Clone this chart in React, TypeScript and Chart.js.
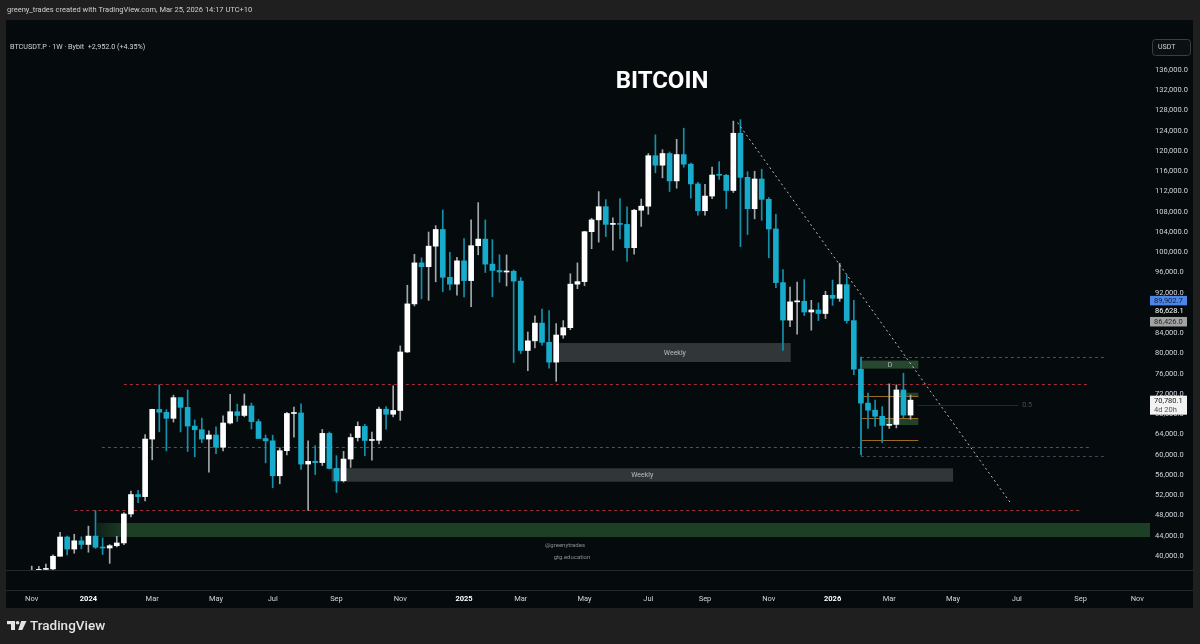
import React, { useEffect, useRef } from "react";
import { Chart, registerables } from "chart.js";

Chart.register(...registerables);

const FONT = "Roboto, 'Noto Sans', 'DejaVu Sans', sans-serif";

// Weekly candles. Week index 0 = week opening Mon 1 Jan 2024.
const FIRST_WEEK = -8;

const opens = [
  35000, 37050, 37350, 37450, 39950, 43750, 41370, 43000,
  42280, 43930, 41730, 41580, 42030, 42580, 48300, 52140, 51730, 63100, 68960, 68390,
  67200, 71280, 69360, 65660, 64940, 63100, 63900, 61480, 66270, 68500, 67760, 69630,
  66540, 63200, 62750, 55850, 60800, 68150, 68250, 58160, 58700, 58450, 64220, 57300,
  54870, 59150, 63400, 65600, 62820, 62850, 69000, 68000, 68750, 80300, 89800, 97900,
  97150, 101200, 104500, 95050, 93700,
  98300, 94400, 101300, 102600, 97650, 96400, 96100, 96250, 94300, 80600, 82500, 86000,
  82200, 78300, 83650, 85100, 93700, 94200, 104060, 106400, 109000, 105500, 105600, 105500,
  100900, 108300, 109100, 119070, 117200, 119500, 114100, 119300, 117400, 113500, 108200, 111100,
  115250, 115200, 112200, 123500, 114800, 108600, 114470, 110450, 104600, 94000, 86600, 90200,
  90300, 88200, 88600, 87900,
  91500, 90900, 93600, 86500, 76900, 70200, 68800, 67600, 65800, 66000, 72800, 67830,
];
const highs = [
  38000, 37950, 38400, 40250, 44700, 43950, 44300, 43800,
  45900, 48970, 43580, 42250, 43880, 48600, 52820, 52980, 64000, 69000, 73800, 68920,
  71770, 71300, 72800, 66870, 67230, 64730, 65500, 67700, 71950, 70000, 72000, 70200,
  67000, 63900, 63860, 61380, 68370, 69400, 70080, 62750, 61800, 65000, 64500, 59810,
  60670, 64130, 66500, 66000, 64470, 69420, 69500, 73620, 81500, 93480, 99600, 98900,
  104000, 105250, 108350, 99960, 98980,
  102720, 106400, 109800, 106400, 102500, 99500, 99480, 96500, 95000, 84250, 87450, 88750,
  88500, 85900, 86500, 95750, 97900, 104150, 106700, 111980, 110400, 106800, 110600, 108950,
  108500, 110500, 119500, 123200, 120250, 119800, 122300, 124500, 117600, 113800, 113400, 116800,
  117900, 115400, 125900, 126200, 115900, 116000, 116400, 110800, 107500, 96600, 93100, 94100,
  94600, 90500, 90000, 92300,
  94500, 97800, 95500, 90500, 79300, 72200, 70800, 69500, 74000, 73800, 76100, 71800,
];
const lows = [
  34500, 35100, 35600, 36700, 39950, 40200, 40550, 41400,
  40750, 41500, 40280, 38550, 41800, 42250, 47700, 50520, 50900, 59000, 64530, 60760,
  66460, 64500, 60660, 59600, 62400, 56550, 60190, 60750, 66080, 66600, 67500, 65080,
  63380, 58400, 53500, 54260, 59950, 63450, 57120, 49000, 56080, 57870, 57200, 52550,
  54600, 57500, 62700, 59830, 58950, 62160, 65030, 67480, 66800, 80220, 89400, 90790,
  90500, 94150, 92230, 92580, 91500,
  91200, 89250, 99500, 96000, 91200, 94080, 93350, 78200, 80000, 76600, 81100, 81650,
  77100, 74500, 83000, 84700, 92800, 93380, 100700, 102000, 103100, 100400, 102650, 98200,
  99600, 105100, 107500, 115700, 114700, 112000, 112650, 116800, 110700, 107300, 107300, 110600,
  114400, 108600, 111800, 101100, 103500, 106600, 106300, 98900, 93000, 80600, 85300, 83800,
  87500, 84600, 86500, 86900,
  89500, 90300, 86000, 75800, 60000, 65200, 65600, 62400, 65200, 65300, 67300, 67000,
];
const closes = [
  37050, 37350, 37450, 39950, 43750, 41370, 43000, 42280,
  43930, 41730, 41580, 42030, 42580, 48300, 52140, 51730, 63100, 68960, 68390, 67200,
  71280, 69360, 65660, 64940, 63100, 63900, 61480, 66270, 68500, 67760, 69630, 66540,
  63200, 62750, 55850, 60800, 68150, 68250, 58160, 58700, 58450, 64220, 57300, 54870,
  59150, 63400, 65600, 62820, 62850, 69000, 68000, 68750, 80300, 89800, 97900, 97150,
  101200, 104500, 95050, 93700, 98300,
  94400, 101300, 102600, 97650, 96400, 96100, 96250, 94300, 80600, 82500, 86000, 82200,
  78300, 83650, 85100, 93700, 94200, 104060, 106400, 109000, 105500, 105600, 105500, 100900,
  108300, 109100, 119070, 117200, 119500, 114100, 119300, 117400, 113500, 108200, 111100, 115250,
  115200, 112200, 123500, 114800, 108600, 114470, 110450, 104600, 94000, 86600, 90200, 90300,
  88200, 88600, 87900, 91500,
  90900, 93600, 86500, 76900, 70200, 68800, 67600, 65800, 66000, 72800, 67830, 70780.1,
];

// Time axis (week indices of the first bar of each labelled month)
const monthTickWeeks = [-8, 0, 9, 18, 26, 35, 44, 53, 61, 70, 79, 87, 96, 105, 113, 122, 131, 140, 148];
const monthTickLabels = ["Nov", "2024", "Mar", "May", "Jul", "Sep", "Nov", "2025", "Mar", "May", "Jul", "Sep", "Nov", "2026", "Mar", "May", "Jul", "Sep", "Nov"];
const yearLabels = ["2024", "2025", "2026"];

// Price axis
const priceTicks = [136000, 132000, 128000, 124000, 120000, 116000, 112000, 108000, 104000, 100000, 96000, 92000,
  84000, 80000, 76000, 72000, 68000, 64000, 60000, 56000, 52000, 48000, 44000, 40000];

// Drawings (week index / price)
const redLevelPrices = [73920, 61600, 49050];
const redLevelFrom = [5.0, 1.9, -2.0];
const redLevelTo = [141.3, 141.3, 139.9];

const greenBandLow = 43750;
const greenBandHigh = 46520;
const greenBandFrom = 1.2;

const weeklyBoxFrom = [66.4, 34.3];
const weeklyBoxTo = [99.1, 122.0];
const weeklyBoxLow = [78320, 54680];
const weeklyBoxHigh = [82070, 57320];

const trendFrom = [91.6, 125600];
const trendTo = [130.1, 50500];

const rangeFrom = 109.0;
const rangeTo = 143.4;
const rangeTop = 79370;
const rangeBottom = 59810;

const dBoxFrom = 109.15;
const dBoxTo = 117.1;
const dBoxLow = 77020;
const dBoxHigh = 78600;
const orangeLevels = [71700, 67250, 62900];
const smallGreenFrom = [114.2, 112.2];
const smallGreenLow = [71470, 65875];
const smallGreenHigh = [72260, 67200];
const fibHalfPrice = 69770;
const fibFrom = 117.0;
const fibTo = 131.2;

const lastPrice = 70780.1;
const countdown = "4d 20h";
const sideLabelPrices = [89902.7, 86628.1, 86426.0];

const X_MIN = -11.338;
const X_MAX = 149.507;
const Y_MIN = 37235;
const Y_MAX = 145876;

const UP = "#ffffff";
const DOWN = "#17abcc";
const WICK_UP = "#a3a8ad";
const WICK_DOWN = "#1590ab";
const PAGE_BG = "#1f1f1f";
const PANEL_BG = "#050b0c";
const TEXT = "#d1d4dc";

const fmt = (v: number) =>
  v.toLocaleString("en-US", { minimumFractionDigits: 1, maximumFractionDigits: 1 });

const decorPlugin = {
  id: "decor",
  beforeDraw(chart: any) {
    const ctx = chart.ctx;
    ctx.save();
    ctx.fillStyle = PAGE_BG;
    ctx.fillRect(0, 0, chart.width, chart.height);
    ctx.fillStyle = PANEL_BG;
    ctx.fillRect(6, 20, 1187, 588);
    ctx.restore();
  },
  beforeDatasetsDraw(chart: any) {
    const ctx = chart.ctx;
    const xs = chart.scales.x;
    const ys = chart.scales.y;
    const X = (w: number) => xs.getPixelForValue(w);
    const Y = (p: number) => ys.getPixelForValue(p);
    const area = chart.chartArea;
    ctx.save();

    // green support band
    const bx0 = X(greenBandFrom);
    const bx1 = area.right + 2;
    const grad = ctx.createLinearGradient(bx0, 0, bx0 + 32, 0);
    grad.addColorStop(0, "rgba(34,72,44,0.35)");
    grad.addColorStop(1, "rgba(30,66,40,0.95)");
    ctx.fillStyle = grad;
    ctx.fillRect(bx0, Y(greenBandHigh), bx1 - bx0, Y(greenBandLow) - Y(greenBandHigh));

    // weekly boxes
    for (let i = 0; i < weeklyBoxFrom.length; i++) {
      const x0 = X(weeklyBoxFrom[i]);
      const x1 = X(weeklyBoxTo[i]);
      const y0 = Y(weeklyBoxHigh[i]);
      const y1 = Y(weeklyBoxLow[i]);
      ctx.fillStyle = "rgba(58,62,65,0.85)";
      ctx.fillRect(x0, y0, x1 - x0, y1 - y0);
      ctx.fillStyle = "#b9bcbf";
      ctx.font = `7px ${FONT}`;
      ctx.textAlign = "center";
      ctx.textBaseline = "middle";
      ctx.fillText("Weekly", (x0 + x1) / 2, (y0 + y1) / 2 + 0.5);
    }

    // red dashed levels
    ctx.strokeStyle = "#a0303d";
    ctx.lineWidth = 1;
    ctx.setLineDash([3, 3]);
    for (let i = 0; i < redLevelPrices.length; i++) {
      const y = Math.round(Y(redLevelPrices[i])) + 0.5;
      ctx.beginPath();
      ctx.moveTo(X(redLevelFrom[i]), y);
      ctx.lineTo(X(redLevelTo[i]), y);
      ctx.stroke();
    }

    // range box
    const rx0 = X(rangeFrom);
    const rx1 = X(rangeTo);
    const ryT = Math.round(Y(rangeTop)) + 0.5;
    const ryB = Math.round(Y(rangeBottom)) + 0.5;
    ctx.setLineDash([3, 3]);
    ctx.strokeStyle = "#2f5396";
    ctx.beginPath();
    ctx.moveTo(rx0, ryT);
    ctx.lineTo(rx1, ryT);
    ctx.stroke();
    ctx.strokeStyle = "#3a4a5c";
    ctx.beginPath();
    ctx.moveTo(rx0, ryB);
    ctx.lineTo(rx1, ryB);
    ctx.stroke();
    ctx.setLineDash([]);
    ctx.strokeStyle = "#2d5a86";
    ctx.beginPath();
    ctx.moveTo(Math.round(rx0) + 0.5, ryT);
    ctx.lineTo(Math.round(rx0) + 0.5, ryB);
    ctx.stroke();

    // D box
    const dx0 = X(dBoxFrom);
    const dx1 = X(dBoxTo);
    ctx.fillStyle = "#27482e";
    ctx.fillRect(dx0, Y(dBoxHigh), dx1 - dx0, Y(dBoxLow) - Y(dBoxHigh));
    ctx.fillStyle = "#b5b8ba";
    ctx.font = `7px ${FONT}`;
    ctx.textAlign = "center";
    ctx.textBaseline = "middle";
    ctx.fillText("D", (dx0 + dx1) / 2, (Y(dBoxHigh) + Y(dBoxLow)) / 2 + 0.5);

    // small green boxes
    ctx.fillStyle = "rgba(38,78,46,0.85)";
    for (let i = 0; i < smallGreenFrom.length; i++) {
      const x0 = X(smallGreenFrom[i]);
      ctx.fillRect(x0, Y(smallGreenHigh[i]), dx1 - x0, Y(smallGreenLow[i]) - Y(smallGreenHigh[i]));
    }

    // orange levels
    ctx.strokeStyle = "#9c6b22";
    for (const p of orangeLevels) {
      const y = Math.round(Y(p)) + 0.5;
      ctx.beginPath();
      ctx.moveTo(dx0, y);
      ctx.lineTo(dx1, y);
      ctx.stroke();
    }

    // 0.5 level
    const fy = Math.round(Y(fibHalfPrice)) + 0.5;
    ctx.strokeStyle = "#23292b";
    ctx.beginPath();
    ctx.moveTo(X(fibFrom), fy);
    ctx.lineTo(X(fibTo), fy);
    ctx.stroke();
    ctx.fillStyle = "#4c5457";
    ctx.font = `7px ${FONT}`;
    ctx.textAlign = "left";
    ctx.fillText("0.5", X(fibTo) + 4, fy);

    // watermark
    ctx.fillStyle = "#8a8e91";
    ctx.font = `6px ${FONT}`;
    ctx.textAlign = "center";
    ctx.fillText("@greenytrades", 565, 545);
    ctx.fillText("gtg.education", 572, 557);

    ctx.restore();
  },
  afterDatasetsDraw(chart: any) {
    const ctx = chart.ctx;
    const xs = chart.scales.x;
    const ys = chart.scales.y;
    ctx.save();
    ctx.strokeStyle = "rgba(215,218,220,0.85)";
    ctx.lineWidth = 1;
    ctx.setLineDash([2, 3]);
    ctx.beginPath();
    ctx.moveTo(xs.getPixelForValue(trendFrom[0]), ys.getPixelForValue(trendFrom[1]));
    ctx.lineTo(xs.getPixelForValue(trendTo[0]), ys.getPixelForValue(trendTo[1]));
    ctx.stroke();
    ctx.restore();
  },
  afterDraw(chart: any) {
    const ctx = chart.ctx;
    const ys = chart.scales.y;
    ctx.save();

    // pane separators
    ctx.strokeStyle = "#242a2c";
    ctx.lineWidth = 1;
    ctx.beginPath();
    ctx.moveTo(6, 570.5);
    ctx.lineTo(1193, 570.5);
    ctx.moveTo(6, 590.5);
    ctx.lineTo(1193, 590.5);
    ctx.stroke();

    // header
    ctx.textBaseline = "middle";
    ctx.textAlign = "left";
    ctx.fillStyle = "#cfcfcf";
    ctx.font = `7.5px ${FONT}`;
    ctx.fillText("greeny_trades created with TradingView.com, Mar 25, 2026 14:17 UTC+10", 7, 10);

    // symbol line
    ctx.fillStyle = TEXT;
    ctx.font = `7.2px ${FONT}`;
    ctx.fillText("BTCUSDT.P \u00b7 1W \u00b7 Bybit  +2,952.0 (+4.35%)", 10, 47);

    // title
    ctx.fillStyle = "#ffffff";
    ctx.font = `bold 24px ${FONT}`;
    ctx.textAlign = "center";
    ctx.fillText("BITCOIN", 662, 82);

    // USDT box
    ctx.strokeStyle = "#3a3f45";
    ctx.fillStyle = "#0b1012";
    ctx.beginPath();
    (ctx as any).roundRect(1152.5, 39.5, 38, 16, 3);
    ctx.fill();
    ctx.stroke();
    ctx.fillStyle = TEXT;
    ctx.font = `7px ${FONT}`;
    ctx.textAlign = "left";
    ctx.fillText("USDT", 1158, 47.5);

    // side price labels
    const lx = 1150;
    const lw = 37;
    ctx.font = `7.5px ${FONT}`;
    const y0 = ys.getPixelForValue(sideLabelPrices[0]) - 3;
    ctx.fillStyle = "#4d86e6";
    ctx.fillRect(lx, y0 - 4.5, lw, 9.5);
    ctx.fillStyle = "#0d1d3a";
    ctx.fillText(fmt(sideLabelPrices[0]), lx + 4, y0 + 0.5);

    const y1 = ys.getPixelForValue(sideLabelPrices[1]) - 9;
    ctx.fillStyle = "#ffffff";
    ctx.fillText(fmt(sideLabelPrices[1]), lx + 5, y1);

    const y2 = ys.getPixelForValue(sideLabelPrices[2]) + 0.5;
    ctx.fillStyle = "#a3a3a3";
    ctx.fillRect(lx, y2 - 4.5, lw, 9.5);
    ctx.fillStyle = "#2a2a2a";
    ctx.fillText(fmt(sideLabelPrices[2]), lx + 4, y2 + 0.5);

    // last price box
    const yl = ys.getPixelForValue(lastPrice);
    ctx.fillStyle = "#f2f2f2";
    ctx.fillRect(lx, yl - 4.5, lw, 19);
    ctx.fillStyle = "#1c1c1c";
    ctx.fillText(fmt(lastPrice), lx + 4, yl + 0.5);
    ctx.fillStyle = "#555555";
    ctx.fillText(countdown, lx + 4, yl + 9.5);

    // footer logo
    ctx.fillStyle = "#e4e4e4";
    ctx.fillRect(7, 621, 8, 3.2);
    ctx.fillRect(11, 621, 4, 9);
    ctx.beginPath();
    ctx.arc(17.6, 622.8, 1.8, 0, Math.PI * 2);
    ctx.fill();
    ctx.beginPath();
    ctx.moveTo(21.2, 621);
    ctx.lineTo(26.5, 621);
    ctx.lineTo(22.3, 630);
    ctx.lineTo(18.2, 630);
    ctx.closePath();
    ctx.fill();
    ctx.font = `500 13.5px ${FONT}`;
    ctx.textAlign = "left";
    ctx.fillText("TradingView", 30, 626.5);

    ctx.restore();
  },
};

export default function App() {
  const canvasRef = useRef<HTMLCanvasElement | null>(null);

  useEffect(() => {
    const canvas = canvasRef.current;
    if (!canvas) return;
    const weeks = opens.map((_, i) => FIRST_WEEK + i);
    const up = opens.map((o, i) => closes[i] >= o);

    const chart = new Chart(canvas, {
      type: "bar",
      data: {
        datasets: [
          {
            label: "wicks",
            data: weeks.map((w, i) => ({ x: w, y: [lows[i], highs[i]] })) as any,
            backgroundColor: up.map((u) => (u ? WICK_UP : WICK_DOWN)),
            borderWidth: 0,
            barThickness: 1,
            grouped: false,
            clip: 0,
            order: 2,
          } as any,
          {
            label: "bodies",
            data: weeks.map((w, i) => ({ x: w, y: [opens[i], closes[i]] })) as any,
            backgroundColor: up.map((u) => (u ? UP : DOWN)),
            borderWidth: 0,
            barThickness: 5,
            minBarLength: 1,
            grouped: false,
            clip: 0,
            order: 1,
          } as any,
        ],
      },
      options: {
        animation: false,
        responsive: false,
        maintainAspectRatio: false,
        devicePixelRatio: 1,
        events: [],
        layout: { padding: { left: 6, top: 20, right: 7, bottom: 36 } },
        plugins: {
          legend: { display: false },
          tooltip: { enabled: false },
        },
        scales: {
          x: {
            type: "linear",
            min: X_MIN,
            max: X_MAX,
            offset: false,
            grid: { display: false, drawTicks: false },
            border: { display: false },
            afterBuildTicks: (s: any) => {
              s.ticks = monthTickWeeks.map((v) => ({ value: v }));
            },
            afterFit: (s: any) => {
              s.height = 38;
            },
            ticks: {
              autoSkip: false,
              maxRotation: 0,
              minRotation: 0,
              padding: 25,
              color: (c: any) =>
                yearLabels.includes(monthTickLabels[monthTickWeeks.indexOf(c.tick?.value)]) ? "#ffffff" : TEXT,
              font: (c: any) => ({
                family: FONT,
                size: 7.5,
                weight: yearLabels.includes(monthTickLabels[monthTickWeeks.indexOf(c.tick?.value)]) ? "bold" : "normal",
              }),
              callback: (v: any) => {
                const i = monthTickWeeks.indexOf(Number(v));
                return i >= 0 ? monthTickLabels[i] : "";
              },
            },
          },
          y: {
            type: "linear",
            position: "right",
            min: Y_MIN,
            max: Y_MAX,
            grid: { display: false, drawTicks: false },
            border: { display: false },
            afterBuildTicks: (s: any) => {
              s.ticks = priceTicks.map((v) => ({ value: v }));
            },
            afterFit: (s: any) => {
              s.width = 45;
            },
            ticks: {
              autoSkip: false,
              padding: 7,
              color: TEXT,
              font: { family: FONT, size: 7.5 },
              callback: (v: any) => fmt(Number(v)),
            },
          },
        },
      } as any,
      plugins: [decorPlugin],
    });
    return () => chart.destroy();
  }, []);

  return (
    <div style={{ position: "fixed", left: 0, top: 0, width: 1200, height: 644, background: PAGE_BG }}>
      <canvas ref={canvasRef} width={1200} height={644} style={{ display: "block", width: 1200, height: 644 }} />
    </div>
  );
}
